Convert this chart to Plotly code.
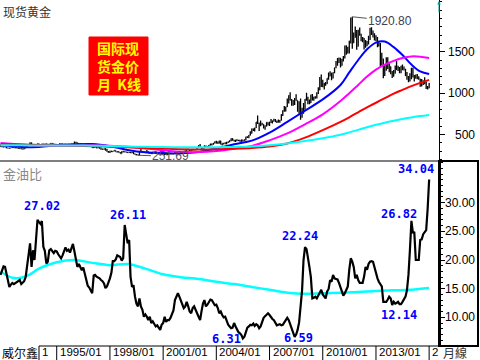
import plotly.graph_objects as go
import pandas as pd

# ---------------- DATA ----------------
# monthly bars from 1991/11 to 2016/01
months = pd.date_range("1991-11-01", periods=291, freq="MS")

gold_open = [
    357, 366,
    353, 354, 353, 341, 337, 337, 343, 357, 340, 349, 339, 334,
    333, 330, 327, 337, 355, 377, 378, 401, 371, 355, 370, 371,
    391, 378, 381, 390, 376, 388, 386, 384, 386, 395, 389, 384,
    383, 375, 376, 392, 389, 385, 387, 384, 383, 384, 383, 387,
    387, 405, 400, 396, 392, 391, 382, 385, 387, 379, 379, 371,
    369, 345, 358, 349, 340, 345, 334, 326, 325, 332, 311, 296,
    290, 303, 297, 301, 310, 293, 296, 288, 273, 294, 292, 294,
    288, 285, 288, 280, 286, 268, 261, 256, 255, 299, 300, 292,
    290, 284, 293, 277, 275, 273, 288, 277, 278, 273, 264, 270,
    273, 266, 267, 258, 263, 267, 271, 266, 273, 293, 279, 275,
    277, 282, 297, 302, 309, 326, 318, 305, 313, 324, 317, 319,
    348, 368, 347, 334, 337, 361, 346, 354, 375, 388, 386, 398,
    417, 399, 395, 424, 388, 394, 396, 391, 408, 416, 428, 453,
    438, 422, 435, 428, 435, 417, 437, 429, 434, 473, 470, 495,
    517, 569, 556, 582, 654, 643, 614, 633, 624, 600, 604, 647,
    632, 650, 665, 662, 681, 659, 650, 666, 673, 743, 789, 783,
    834, 923, 972, 916, 865, 887, 930, 912, 833, 880, 724, 815,
    869, 927, 942, 916, 883, 979, 927, 955, 955, 1001, 1040, 1182,
    1095, 1081, 1118, 1113, 1180, 1207, 1244, 1181, 1248, 1307, 1357, 1386,
    1421, 1332, 1411, 1439, 1556, 1536, 1500, 1628, 1828, 1620, 1722, 1746,
    1566, 1740, 1710, 1662, 1664, 1559, 1604, 1615, 1648, 1776, 1719, 1712,
    1675, 1664, 1578, 1597, 1476, 1393, 1234, 1313, 1396, 1327, 1323, 1250,
    1202, 1240, 1326, 1284, 1296, 1250, 1327, 1282, 1287, 1211, 1172, 1167,
    1184, 1283, 1213, 1183, 1183, 1190, 1171, 1095, 1134, 1115, 1142, 1065,
    1061,
]
gold_high = [
    370, 366,
    360, 358, 355, 343, 341, 345, 362, 360, 350, 352, 345, 338,
    336, 335, 339, 358, 377, 380, 410, 406, 372, 373, 377, 392,
    393, 386, 392, 392, 390, 393, 389, 390, 397, 398, 393, 386,
    385, 381, 395, 396, 391, 391, 390, 390, 386, 387, 390, 389,
    417, 416, 405, 399, 395, 393, 388, 390, 389, 385, 385, 376,
    370, 365, 358, 354, 346, 348, 347, 334, 335, 336, 332, 305,
    307, 307, 302, 314, 311, 301, 299, 291, 300, 307, 299, 297,
    294, 291, 290, 292, 290, 272, 266, 262, 300, 339, 304, 296,
    292, 317, 299, 287, 281, 293, 292, 281, 279, 275, 272, 276,
    274, 269, 268, 265, 280, 272, 271, 279, 295, 293, 282, 282,
    289, 299, 304, 310, 327, 330, 320, 315, 325, 327, 326, 350,
    372, 389, 354, 341, 373, 371, 362, 376, 391, 390, 399, 417,
    427, 419, 428, 428, 397, 398, 409, 415, 418, 432, 456, 457,
    439, 438, 446, 437, 436, 442, 437, 446, 474, 480, 497, 541,
    575, 575, 583, 654, 731, 645, 672, 644, 625, 615, 650, 650,
    657, 690, 671, 693, 690, 671, 683, 676, 745, 795, 846, 838,
    936, 975, 1011, 930, 918, 941, 987, 913, 902, 935, 826, 882,
    930, 1006, 957, 925, 980, 989, 958, 964, 1012, 1071, 1195, 1226,
    1161, 1123, 1136, 1180, 1249, 1265, 1244, 1252, 1307, 1388, 1424, 1431,
    1424, 1411, 1447, 1576, 1577, 1560, 1632, 1912, 1920.8, 1732, 1804, 1763,
    1764, 1791, 1717, 1677, 1666, 1640, 1628, 1693, 1788, 1796, 1755, 1723,
    1697, 1678, 1617, 1605, 1487, 1417, 1345, 1433, 1434, 1362, 1323, 1267,
    1280, 1333, 1392, 1331, 1315, 1332, 1345, 1322, 1295, 1255, 1208, 1239,
    1307, 1307, 1220, 1224, 1232, 1205, 1175, 1170, 1157, 1191, 1142, 1088,
    1123,
]
gold_low = [
    357, 350,
    350, 351, 338, 334, 334, 336, 342, 339, 337, 338, 333, 331,
    326, 326, 326, 337, 355, 365, 376, 365, 345, 352, 363, 368,
    371, 375, 379, 372, 376, 380, 381, 376, 385, 385, 383, 375,
    371, 373, 375, 387, 383, 384, 383, 381, 380, 381, 382, 384,
    386, 397, 395, 390, 390, 381, 381, 385, 378, 378, 370, 366,
    343, 339, 344, 337, 338, 334, 318, 319, 320, 310, 295, 283,
    278, 290, 293, 301, 293, 286, 286, 272, 273, 289, 290, 284,
    284, 283, 278, 280, 268, 257, 252.5, 251.69, 254, 295, 287, 280,
    282, 282, 276, 272, 269, 270, 275, 270, 268, 263, 261, 268,
    263, 256, 256, 256, 262, 265, 262, 265, 270, 276, 272, 271,
    277, 281, 285, 300, 306, 312, 302, 300, 311, 311, 315, 317,
    342, 346, 320, 320, 336, 342, 340, 354, 370, 370, 378, 393,
    393, 390, 394, 381, 371, 383, 387, 386, 401, 410, 422, 426,
    418, 412, 424, 425, 414, 414, 418, 428, 433, 459, 456, 491,
    513, 543, 539, 580, 630, 543, 603, 613, 575, 560, 600, 612,
    605, 642, 636, 662, 652, 642, 648, 643, 672, 724, 775, 780,
    833, 876, 911, 848, 850, 858, 910, 776, 736, 681, 704, 751,
    800, 910, 866, 866, 883, 913, 908, 932, 935, 991, 1036, 1075,
    1073, 1045, 1089, 1111, 1163, 1203, 1157, 1178, 1241, 1300, 1330, 1364,
    1309, 1330, 1381, 1417, 1462, 1478, 1478, 1600, 1535, 1603, 1669, 1523,
    1564, 1693, 1627, 1613, 1527, 1547, 1565, 1587, 1640, 1702, 1672, 1635,
    1626, 1555, 1562, 1321, 1338, 1180, 1208, 1271, 1291, 1251, 1227, 1182,
    1202, 1238, 1279, 1268, 1240, 1241, 1281, 1273, 1206, 1161, 1131, 1142,
    1167, 1190, 1142, 1175, 1169, 1162, 1077, 1080, 1098, 1108, 1052, 1046,
    1061,
]
gold_close = [
    366, 353,
    354, 353, 341, 337, 337, 343, 357, 340, 349, 339, 334, 333,
    330, 327, 337, 355, 377, 378, 401, 371, 355, 370, 371, 391,
    378, 381, 390, 376, 388, 386, 384, 386, 395, 389, 384, 383,
    375, 376, 392, 389, 385, 387, 384, 383, 384, 383, 387, 387,
    405, 400, 396, 392, 391, 382, 385, 387, 379, 379, 371, 369,
    345, 358, 349, 340, 345, 334, 326, 325, 332, 311, 296, 290,
    303, 297, 301, 310, 293, 296, 288, 273, 294, 292, 294, 288,
    285, 288, 280, 286, 268, 261, 256, 255, 299, 300, 292, 290,
    284, 293, 277, 275, 273, 288, 277, 278, 273, 264, 270, 273,
    266, 267, 258, 263, 267, 271, 266, 273, 293, 279, 275, 277,
    282, 297, 302, 309, 326, 318, 305, 313, 324, 317, 319, 348,
    368, 347, 334, 337, 361, 346, 354, 375, 388, 386, 398, 417,
    399, 395, 424, 388, 394, 396, 391, 408, 416, 428, 453, 438,
    422, 435, 428, 435, 417, 437, 429, 434, 473, 470, 495, 517,
    569, 556, 582, 654, 643, 614, 633, 624, 600, 604, 647, 632,
    650, 665, 662, 681, 659, 650, 666, 673, 743, 789, 783, 834,
    923, 972, 916, 865, 887, 930, 912, 833, 880, 724, 815, 869,
    927, 942, 916, 883, 979, 927, 955, 955, 1001, 1040, 1182, 1095,
    1081, 1118, 1113, 1180, 1207, 1244, 1181, 1248, 1307, 1357, 1386, 1421,
    1332, 1411, 1439, 1556, 1536, 1500, 1628, 1828, 1620, 1722, 1746, 1566,
    1740, 1710, 1662, 1664, 1559, 1604, 1615, 1648, 1776, 1719, 1712, 1675,
    1664, 1578, 1597, 1476, 1393, 1234, 1313, 1396, 1327, 1323, 1250, 1202,
    1240, 1326, 1284, 1296, 1250, 1327, 1282, 1287, 1211, 1172, 1167, 1184,
    1283, 1213, 1183, 1183, 1190, 1171, 1095, 1134, 1115, 1142, 1065, 1061,
    1118,
]

# moving-average curves of gold
ma_dates = ["1991-11-01", "1993-01-01", "1994-01-01", "1995-01-01", "1996-01-01",
            "1997-01-01", "1998-01-01", "1999-01-01", "2000-01-01", "2001-01-01",
            "2002-01-01", "2003-01-01", "2004-01-01", "2005-01-01", "2006-01-01",
            "2007-01-01", "2008-01-01", "2009-01-01", "2010-01-01", "2011-01-01",
            "2011-07-01", "2012-01-01", "2012-07-01", "2013-01-01", "2013-07-01",
            "2014-01-01", "2014-07-01", "2015-01-01", "2015-07-01", "2016-01-01"]
ma_blue = [375, 353, 352, 372, 384, 388, 362, 316, 288, 280, 275, 290, 334, 386, 428,
           525, 655, 790, 925, 1099, 1250, 1400, 1530, 1610, 1622, 1555, 1460, 1345, 1262, 1232]
ma_magenta = [400, 383, 368, 367, 368, 372, 368, 355, 335, 314, 294, 290, 303, 330, 365,
              432, 515, 625, 745, 905, 1000, 1100, 1200, 1285, 1345, 1390, 1425, 1443, 1440, 1425]
ma_red = [388, 382, 376, 371, 366, 362, 356, 348, 340, 333, 326, 322, 325, 331, 340,
          358, 395, 465, 555, 655, 710, 770, 830, 885, 940, 995, 1040, 1085, 1125, 1160]
ma_cyan = [372, 372, 370, 370, 370, 368, 363, 358, 354, 351, 349, 348, 350, 353, 358,
           372, 395, 425, 458, 500, 528, 558, 590, 620, 645, 668, 690, 708, 724, 738]

# gold / oil ratio, monthly
ratio = [
    17.4, 18.3,
    18.9, 18.8, 17.5, 16.3, 15.3, 15.7, 16.0, 15.8, 16.0, 16.1, 16.3, 16.5,
    15.8, 16.0, 16.3, 17.0, 18.8, 20.6, 22.9, 18.8, 21.7, 20.0, 24.5, 27.02,
    26.6, 26.3, 26.8, 22.3, 21.6, 19.4, 19.7, 21.7, 21.9, 21.5, 21.2, 21.6,
    21.5, 21.0, 20.6, 20.3, 20.8, 21.6, 22.2, 21.6, 21.8, 21.3, 22.1, 22.8,
    21.5, 20.0, 18.8, 19.3, 18.7, 18.2, 18.7, 17.6, 16.0, 15.5, 15.2, 14.6,
    14.2, 17.3, 17.4, 17.1, 17.0, 16.8, 16.5, 16.3, 15.9, 15.1, 15.4, 16.0,
    16.8, 17.8, 19.8, 19.8, 20.1, 20.8, 20.6, 20.5, 19.9, 20.3, 26.11, 24.1,
    22.9, 23.5, 17.1, 15.3, 15.6, 13.6, 12.4, 11.9, 13.3, 11.9, 11.3, 10.1,
    10.5, 10.1, 9.5, 10.1, 9.0, 9.3, 8.7, 8.4, 8.6, 8.2, 7.8, 8.7,
    9.0, 10.1, 9.2, 9.5, 9.5, 9.9, 10.5, 11.2, 13.0, 13.6, 14.2, 13.6,
    13.0, 12.4, 11.6, 11.9, 12.7, 11.9, 11.0, 10.7, 11.6, 11.9, 11.4, 10.7,
    10.1, 9.5, 11.0, 12.4, 13.0, 11.9, 12.2, 12.7, 13.1, 13.0, 12.5, 12.1,
    12.2, 11.6, 10.7, 11.0, 10.4, 10.0, 10.1, 9.3, 8.7, 8.4, 8.1, 8.2,
    9.0, 8.4, 7.8, 7.4, 7.2, 6.9, 6.31, 6.6, 7.4, 8.2, 8.4, 8.7,
    8.6, 8.9, 8.5, 8.8, 8.6, 8.1, 8.4, 9.1, 9.9, 10.2, 10.5, 10.7,
    10.4, 9.9, 9.7, 9.5, 9.1, 8.6, 8.7, 8.8, 8.6, 8.7, 9.1, 9.6,
    9.9, 9.5, 8.8, 8.0, 7.0, 6.59, 7.0, 7.8, 9.1, 12.4, 14.7, 20.0,
    22.24, 21.9, 20.7, 18.8, 17.0, 13.3, 13.4, 13.6, 13.3, 13.9, 14.5, 14.8,
    14.0, 13.6, 13.3, 14.5, 14.9, 16.5, 16.2, 17.4, 16.8, 16.7, 16.6, 16.0,
    15.1, 14.5, 13.8, 14.2, 14.8, 15.4, 18.3, 20.3, 19.7, 18.8, 16.8, 17.4,
    16.5, 16.0, 16.0, 16.0, 17.1, 18.8, 18.3, 19.3, 19.7, 19.8, 19.7, 18.6,
    17.4, 16.8, 16.2, 15.8, 15.4, 12.7, 12.7, 12.7, 13.1, 13.6, 13.3, 12.14,
    12.7, 12.4, 12.5, 12.7, 12.3, 12.3, 12.7, 13.3, 13.6, 14.7, 17.4, 21.7,
    26.82, 24.7, 24.9, 20.0, 20.0, 20.0, 23.5, 23.6, 24.5, 24.9, 25.2, 28.9,
    34.04,
]
ratio_ma_dates = ["1991-11-01", "1992-07-01", "1993-01-01", "1993-07-01", "1994-01-01",
                  "1995-01-01", "1996-01-01", "1997-01-01", "1998-01-01", "1999-01-01",
                  "2000-01-01", "2001-01-01", "2002-01-01", "2003-01-01", "2004-01-01",
                  "2005-01-01", "2006-01-01", "2007-01-01", "2008-01-01", "2009-01-01",
                  "2010-01-01", "2011-01-01", "2012-01-01", "2013-01-01", "2014-01-01",
                  "2015-01-01", "2016-01-01"]
ratio_ma = [18.0, 16.9, 16.9, 17.5, 18.5, 19.6, 20.0, 19.5, 19.1, 19.3, 18.5, 17.5, 17.0,
            16.7, 16.2, 15.8, 15.3, 14.8, 14.3, 14.1, 14.2, 14.3, 14.4, 14.6, 14.7, 14.8, 15.1]

# labelled ratio extremes
ratio_marks = [27.02, 26.11, 6.31, 6.59, 22.24, 12.14, 26.82, 34.04]

gold_ticks = [500, 1000, 1500]
ratio_ticks = [10, 15, 20, 25, 30]
date_tick_dates = ["1994-01-01", "1995-01-01", "1998-01-01", "2001-01-01", "2004-01-01",
                   "2007-01-01", "2010-01-01", "2013-01-01", "2016-01-01"]
date_tick_text = ["1", "1995/01", "1998/01", "2001/01", "2004/01", "2007/01",
                  "2010/01", "2013/01", "2"]

# ---------------- FIGURE ----------------
X_RANGE = ["1991-10-21", "2016-07-22"]
SPLIT = (346 - 161) / 346.0   # boundary between panels in paper coords
CJK = "Noto Sans CJK SC"
LAT = "Liberation Sans, Arial"

fig = go.Figure()
for vals, col in [(ma_blue, "#0000FF"), (ma_magenta, "#FF00FF"),
                  (ma_red, "#FF0000"), (ma_cyan, "#00FFFF")]:
    fig.add_trace(go.Scatter(x=ma_dates, y=vals, mode="lines",
                             line=dict(color=col, width=2, shape="spline", smoothing=1.0),
                             xaxis="x", yaxis="y", hoverinfo="skip"))
fig.add_trace(go.Ohlc(x=months, open=gold_open, high=gold_high, low=gold_low,
                      close=gold_close, xaxis="x", yaxis="y", tickwidth=0.35,
                      increasing=dict(line=dict(color="black", width=1.3)),
                      decreasing=dict(line=dict(color="black", width=1.3)),
                      hoverinfo="skip"))
fig.add_trace(go.Scatter(x=ratio_ma_dates, y=ratio_ma, mode="lines",
                         line=dict(color="#00FFFF", width=2.5, shape="spline"),
                         xaxis="x2", yaxis="y2", hoverinfo="skip"))
fig.add_trace(go.Scatter(x=months, y=ratio, mode="lines",
                         line=dict(color="black", width=2.2),
                         xaxis="x2", yaxis="y2", hoverinfo="skip"))

fig.update_layout(
    width=480, height=360,
    margin=dict(l=0, r=41, t=0, b=14),
    paper_bgcolor="white", plot_bgcolor="white",
    showlegend=False, hovermode=False,
    xaxis=dict(domain=[0, 1], range=X_RANGE, anchor="y", type="date",
               showticklabels=False, showgrid=False, zeroline=False, ticks="",
               rangeslider=dict(visible=False)),
    xaxis2=dict(domain=[0, 1], range=X_RANGE, anchor="y2", type="date", matches="x",
                showticklabels=False, showgrid=False, zeroline=False, ticks=""),
    yaxis=dict(domain=[SPLIT, 1], range=[183, 2123], anchor="x", side="right",
               showgrid=False, zeroline=False, showline=True, linecolor="black",
               linewidth=1, ticks="outside", ticklen=5, tickcolor="black",
               tickmode="array", tickvals=gold_ticks, showticklabels=False,
               minor=dict(ticks="outside", ticklen=2, tickcolor="black",
                          dtick=100, tick0=0, showgrid=False)),
    yaxis2=dict(domain=[0, SPLIT], range=[4.99, 37.28], anchor="x2", side="right",
                showgrid=False, zeroline=False, showline=True, linecolor="black",
                linewidth=2, ticks="outside", ticklen=4, tickcolor="black",
                tickmode="array", tickvals=ratio_ticks, showticklabels=False,
                minor=dict(ticks="outside", ticklen=2, tickcolor="black",
                           dtick=1, tick0=0, showgrid=False)),
)

shapes = []
# panel separator
shapes.append(dict(type="line", xref="paper", yref="paper", x0=0, x1=1,
                   y0=SPLIT, y1=SPLIT, line=dict(color="black", width=1)))
# right box of lower panel
shapes.append(dict(type="rect", xref="paper", yref="paper", x0=1.0, x1=478 / 439,
                   y0=0, y1=SPLIT, line=dict(color="black", width=2)))
# date strip: top border and separators
shapes.append(dict(type="line", xref="x2", yref="paper", x0=date_tick_dates[0],
                   x1=X_RANGE[1], y0=0, y1=0, line=dict(color="black", width=1)))
for d in date_tick_dates:
    shapes.append(dict(type="line", xref="x2", yref="paper", x0=d, x1=d,
                       y0=0, y1=-14 / 346, line=dict(color="black", width=1)))
# label box
shapes.append(dict(type="rect", xref="paper", yref="paper",
                   x0=89 / 439, x1=148 / 439, y0=(346 - 95) / 346, y1=(346 - 37) / 346,
                   fillcolor="#FF0000", line=dict(color="#FF0000", width=1), layer="above"))
fig.update_layout(shapes=shapes)

ann = []
# panel titles
ann.append(dict(text="现货黄金", xref="paper", yref="paper", x=0, y=1, xanchor="left",
                yanchor="top", xshift=1, yshift=-1, showarrow=False,
                font=dict(family=CJK, size=12, color="#333333")))
ann.append(dict(text="金油比", xref="paper", yref="paper", x=0, y=SPLIT, xanchor="left",
                yanchor="top", xshift=1, yshift=-1, showarrow=False,
                font=dict(family=CJK, size=13, color="#888888")))
# red box text (one block, three lines)
ann.append(dict(text="<b>国际现<br>货金价<br>月 \u00a0K线</b>", xref="paper", yref="paper",
                x=118.5 / 439, y=(346 - 66) / 346, xanchor="center", yanchor="middle",
                align="left", showarrow=False,
                font=dict(family=CJK, size=14, color="#FFFF00")))
# right tick labels
for v in gold_ticks:
    ann.append(dict(text=str(v), xref="paper", yref="y", x=1, y=v, xanchor="right",
                    yanchor="middle", xshift=38, showarrow=False,
                    font=dict(family=LAT, size=12, color="black")))
for v in ratio_ticks:
    ann.append(dict(text=f"{v:.2f}", xref="paper", yref="y2", x=1, y=v, xanchor="right",
                    yanchor="middle", xshift=38, showarrow=False,
                    font=dict(family=LAT, size=12, color="black")))
# date labels
for d, t in zip(date_tick_dates, date_tick_text):
    ann.append(dict(text=t, xref="x2", yref="paper", x=d, y=-6.5 / 346, xanchor="left",
                    yanchor="middle", xshift=1, showarrow=False,
                    font=dict(family=LAT, size=11.5, color="black")))
ann.append(dict(text="威尔鑫", xref="paper", yref="paper", x=0, y=-6.5 / 346, xanchor="left",
                yanchor="middle", xshift=0, showarrow=False,
                font=dict(family=CJK, size=12, color="black")))
ann.append(dict(text="月線", xref="paper", yref="paper", x=1, y=-6.5 / 346, xanchor="left",
                yanchor="middle", xshift=2, showarrow=False,
                font=dict(family=CJK, size=12, color="#333333")))
# ratio extreme labels (shift in pixels from the data point)
shifts = {27.02: (5, 14), 26.11: (3, 10), 6.31: (-16, -1), 6.59: (4, -1),
          22.24: (-5, 11), 12.14: (7, -10), 26.82: (-12, 7), 34.04: (-13, 11)}
for v in ratio_marks:
    i = ratio.index(v)
    dx, dy = shifts[v]
    ann.append(dict(text=f"<b>{ratio[i]:.2f}</b>", xref="x2", yref="y2", x=months[i], y=ratio[i],
                    xanchor="center", yanchor="middle", xshift=dx, yshift=dy, showarrow=False,
                    font=dict(family="DejaVu Sans Mono", size=12, color="#0000FF")))
# gold extremes
i_hi = gold_high.index(max(gold_high))
ann.append(dict(text=f"{gold_high[i_hi]:.2f}", xref="x", yref="y", x=months[i_hi],
                y=gold_high[i_hi], showarrow=True, arrowhead=0, arrowwidth=1,
                arrowcolor="#555555", ax=38, ay=4, xanchor="center", yanchor="middle",
                font=dict(family=LAT, size=12, color="#404050")))
i_lo = gold_low.index(min(gold_low))
ann.append(dict(text=f"{gold_low[i_lo]:.2f}", xref="x", yref="y", x=months[i_lo],
                y=gold_low[i_lo], showarrow=True, arrowhead=0, arrowwidth=1,
                arrowcolor="#555555", ax=33, ay=1, xanchor="center", yanchor="middle",
                font=dict(family=LAT, size=12, color="#505060")))
# small arrow at the top of the axis
ann.append(dict(text="", xref="paper", yref="paper", x=1, y=1, ax=0, ay=14,
                showarrow=True, arrowhead=2, arrowsize=0.7, arrowwidth=1,
                arrowcolor="#009999"))
fig.update_layout(annotations=ann)

fig.write_html("out.html", config={"displayModeBar": False, "staticPlot": True},
               post_script="document.body.style.margin='0';")
